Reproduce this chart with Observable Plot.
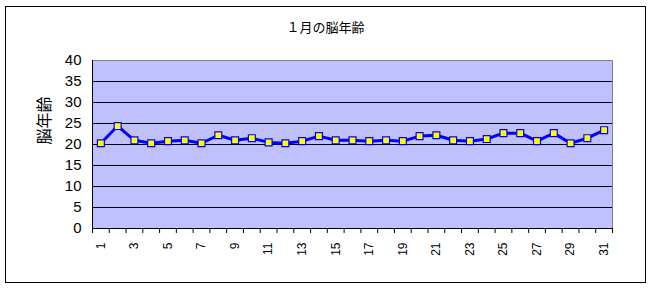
<!DOCTYPE html>
<html><head><meta charset="utf-8">
<script src="https://cdn.jsdelivr.net/npm/d3@7"></script>
<script src="https://cdn.jsdelivr.net/npm/@observablehq/plot@0.6"></script>
<style>
body{margin:0;background:#fff;}
#wrap{position:relative;width:652px;height:289px;}
#border{position:absolute;left:5px;top:6px;width:639px;height:275px;border:1px solid #000;}
#chart{position:absolute;left:0;top:0;}
</style>
</head><body>
<div id="wrap"><div id="border"></div><div id="chart"></div></div>
<script>
const title = "１月の脳年齢";
const yLabel = "脳年齢";
const days = d3.range(1, 32);
const values = [20.3,24.4,21.0,20.3,20.8,21.0,20.3,22.2,21.0,21.5,20.5,20.3,20.8,22.0,21.0,21.0,20.8,21.0,20.8,22.0,22.2,21.0,20.8,21.3,22.7,22.7,20.8,22.7,20.3,21.5,23.4];
const yTicks = [0,5,10,15,20,25,30,35,40];
const gridTicks = [5,10,15,20,25,30,35];
const labelDays = days.filter(d => d % 2 === 1);
const boundaries = [...days.map(d => d - 0.5), days[days.length - 1] + 0.5];
const data = days.map((d, i) => ({day: d, value: values[i]}));

const chart = Plot.plot({
  width: 652, height: 289,
  marginLeft: 92, marginRight: 40, marginTop: 60, marginBottom: 61,
  style: {fontFamily: "'Liberation Sans', Arial, sans-serif", fontSize: "12px", background: "transparent", overflow: "visible"},
  x: {type: "linear", domain: [0.5, 31.5], label: null},
  y: {domain: [0, 40], label: null},
  marks: [
    Plot.frame({fill: "#C0C0FF", stroke: "#808080"}),
    Plot.ruleY(gridTicks, {stroke: "#000", strokeWidth: 1}),
    Plot.ruleY([0], {stroke: "#000"}),
    Plot.ruleX([0.5], {stroke: "#000"}),
    Plot.axisX({ticks: boundaries, tickFormat: () => "", tickSize: 5, stroke: "#000", label: null}),
    Plot.axisX({ticks: labelDays, tickSize: 0, tickPadding: 14, tickRotate: -90, fontSize: 12, fill: "#000", label: null}),
    Plot.axisY({ticks: yTicks, tickSize: 0, tickPadding: 11, fontSize: 15, fill: "#000", label: null}),
    Plot.line(data, {x: "day", y: "value", stroke: "#0000FF", strokeWidth: 3}),
    Plot.dot(data, {x: "day", y: "value", symbol: "square", r: 3.9, fill: "#FFFF00", stroke: "#0000FF", strokeWidth: 1.2}),
    Plot.text([title], {frameAnchor: "top", dy: -38, dx: -27, fontSize: 13, fontFamily: "'Noto Sans CJK JP', sans-serif", fill: "#000"}),
    Plot.text([yLabel], {frameAnchor: "left", dx: -48, rotate: -90, fontSize: 16, fontFamily: "'Noto Sans CJK JP', sans-serif", fill: "#000"})
  ]
});
document.getElementById("chart").appendChild(chart);
</script>
</body></html>
